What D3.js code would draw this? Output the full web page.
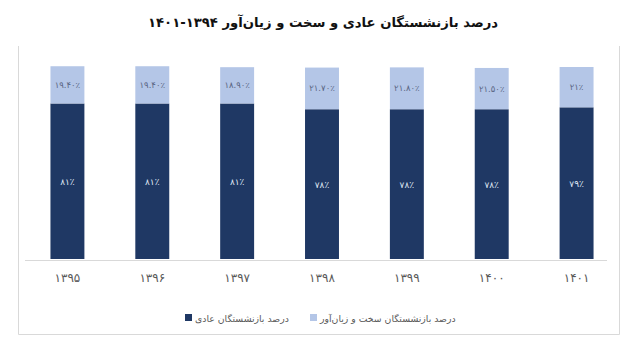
<!DOCTYPE html>
<html><head><meta charset="utf-8">
<script src="https://cdn.jsdelivr.net/npm/d3@7/dist/d3.min.js"></script>
<style>body{margin:0;background:#fff;}svg{display:block;font-family:"DejaVu Sans",sans-serif;}</style>
</head><body>
<svg id="c" width="640" height="348"></svg>
<script>
const categories = ["۱۳۹۵","۱۳۹۶","۱۳۹۷","۱۳۹۸","۱۳۹۹","۱۴۰۰","۱۴۰۱"];
const normalValues = [81, 81, 81, 78, 78, 78, 79];
const hardValues = [19.4, 19.4, 18.9, 21.7, 21.8, 21.5, 21];
const normalLabels = ["۸۱٪","۸۱٪","۸۱٪","۷۸٪","۷۸٪","۷۸٪","۷۹٪"];
const hardLabels = ["۱۹.۴۰٪","۱۹.۴۰٪","۱۸.۹۰٪","۲۱.۷۰٪","۲۱.۸۰٪","۲۱.۵۰٪","۲۱٪"];
const seriesNames = ["درصد بازنشستگان عادی","درصد بازنشستگان سخت و زیان‌آور"];
const title = "درصد بازنشستگان عادی و سخت و زیان‌آور ۱۳۹۴-۱۴۰۱";

const dark = "#1f3864", light = "#b4c6e7";
const svg = d3.select("#c");

// frame
svg.append("path").attr("d","M18.5,46 V334.5 H619.5 V46").attr("fill","none").attr("stroke","#d9d9d9");

svg.append("text").attr("x",323).attr("y",27).attr("text-anchor","middle")
  .attr("direction","rtl").attr("font-weight","bold").attr("font-size",13.2).attr("fill","#111")
  .text(title);

const x = d3.scaleBand().domain(categories).range([25,619]).paddingInner(0.6).paddingOuter(0.3);
const y = d3.scaleLinear().domain([0,100]).range([259,67]);

const data = categories.map((c,i)=>({c, n:normalValues[i], h:hardValues[i], nl:normalLabels[i], hl:hardLabels[i]}));

const g = svg.append("g");
g.selectAll(".n").data(data).join("rect").attr("x",d=>x(d.c)).attr("width",x.bandwidth())
  .attr("y",d=>y(d.n)).attr("height",d=>y(0)-y(d.n)).attr("fill",dark);
g.selectAll(".h").data(data).join("rect").attr("x",d=>x(d.c)).attr("width",x.bandwidth())
  .attr("y",d=>y(d.n+d.h)).attr("height",d=>y(d.n)-y(d.n+d.h)).attr("fill",light);

g.selectAll(".nl").data(data).join("text").attr("x",d=>x(d.c)+x.bandwidth()/2).attr("y",d=>y(d.n/2)+4)
  .attr("text-anchor","middle").attr("font-size",9).attr("fill","#dfe6f3").text(d=>d.nl);
g.selectAll(".hl").data(data).join("text").attr("x",d=>x(d.c)+x.bandwidth()/2).attr("y",d=>y(d.n+d.h/2)+3)
  .attr("text-anchor","middle").attr("font-size",8.5).attr("fill","#5b6785").text(d=>d.hl);

// axis
const ax = svg.append("g").attr("transform","translate(0,260.5)").call(d3.axisBottom(x).tickSize(0).tickPadding(13));
ax.select(".domain").attr("stroke","#d9d9d9").attr("d","M25,0H607");
ax.selectAll("text").attr("font-size",12).attr("fill","#595959").attr("font-family","DejaVu Sans");

// legend
const leg = [{name:seriesNames[0], col:dark, x:185},{name:seriesNames[1], col:light, x:310}];
const lg = svg.selectAll(".lg").data(leg).join("g").attr("transform",d=>`translate(${d.x},318)`);
lg.append("rect").attr("x",0).attr("y",-4).attr("width",7).attr("height",7).attr("fill",d=>d.col);
lg.append("text").attr("x",10).attr("y",3.5).attr("font-size",9.3).attr("fill","#595959").attr("direction","rtl")
  .attr("text-anchor","end").text(d=>d.name);
</script>
</body></html>
